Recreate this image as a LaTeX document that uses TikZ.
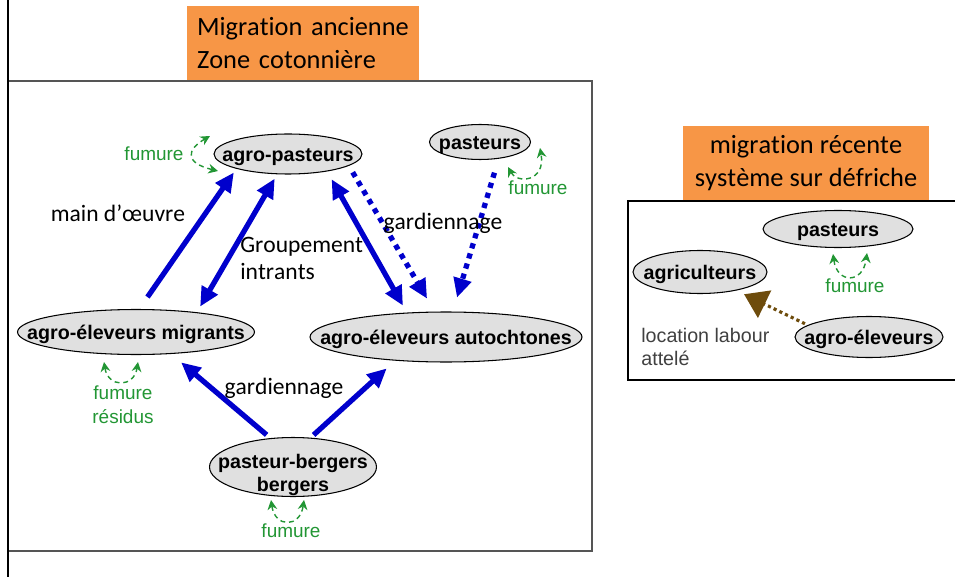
\documentclass[tikz,border=0pt]{standalone}
\usepackage{fontspec}
\setmainfont{Carlito}[Ligatures=NoCommon, Kerning=Off]
\newfontfamily\arialfont{Liberation Sans}
\usetikzlibrary{shapes.geometric, arrows.meta}

\definecolor{titleorange}{RGB}{247,150,70}
\definecolor{nodegray}{RGB}{224,224,224}
\definecolor{flowblue}{RGB}{0,0,204}
\definecolor{manuregreen}{RGB}{34,150,52}
\definecolor{labourbrown}{RGB}{110,76,12}
\definecolor{framegray}{RGB}{85,85,85}

% text of an ellipse, kept out of the shape's size
\newcommand{\zbox}[2][-1.7pt]{\makebox[0pt]{\raisebox{\dimexpr(\depth-\height)/2+#1\relax}[0pt][0pt]{\begin{tabular}{@{}c@{}}#2\end{tabular}}}}

\tikzset{
    actor/.style={ellipse, draw=black, line width=0.6pt, fill=nodegray, inner sep=0pt,
        font=\arialfont\bfseries\fontsize{11.2}{13}\selectfont},
    titlebox/.style={fill=titleorange, inner sep=0pt, font=\fontsize{15}{18.8}\selectfont},
    lab/.style={inner sep=0pt, font=\fontsize{13.4}{15.4}\selectfont},
    fum/.style={inner sep=0pt, text=manuregreen, align=center,
        font=\arialfont\fontsize{10.8}{13.6}\selectfont},
    fumarc/.style={draw=manuregreen, line width=0.8pt, dash pattern=on 2.8pt off 2.2pt,
        {Stealth[length=5.5pt,width=5.5pt]}-{Stealth[length=5.5pt,width=5.5pt]}},
    flow/.style={draw=flowblue, line width=3pt, >={Triangle[length=11pt,width=10pt]}},
    flowdot/.style={flow, dash pattern=on 3pt off 3pt},
    labour/.style={draw=labourbrown, line width=1.8pt, dash pattern=on 1.8pt off 1.8pt,
        >={Triangle[length=13pt,width=17pt]}}
}

\begin{document}
\begin{tikzpicture}[x=0.02cm, y=-0.02cm]
    \useasboundingbox (0,0) rectangle (955,577);

    % frames
    \draw[framegray, line width=0.7pt] (8,81) rectangle (592,551);
    \draw[black, line width=0.8pt] (955,201) -- (628,201) -- (628,380) -- (955,380);
    \draw[black, line width=1.7pt] (8,0) -- (8,577);

    % titles
    \node[titlebox, minimum width=4.64cm, minimum height=1.5cm, text width=4.24cm, align=left]
        (t1) at (303,43) {Migration ancienne\\Zone cotonnière};
    \node[titlebox, minimum width=4.92cm, minimum height=1.48cm, align=center]
        (t2) at (806,163) {migration récente\\système sur défriche};

    % old migration, cotton zone
    \node[actor, minimum width=2.96cm, minimum height=0.8cm] (ap) at (288,154) {\zbox{agro-pasteurs}};
    \node[actor, minimum width=2.02cm, minimum height=0.7cm] (pa) at (480,142) {\zbox{pasteurs}};
    \node[actor, minimum width=4.74cm, minimum height=0.9cm] (mig) at (136,332) {\zbox{agro-éleveurs migrants}};
    \node[actor, minimum width=5.44cm, minimum height=1.0cm] (aut) at (446,337) {\zbox{agro-éleveurs autochtones}};
    \node[actor, minimum width=3.34cm, minimum height=1.18cm] (pb) at (293,467) {\zbox[-5pt]{pasteur-bergers\\bergers}};

    \draw[flow, ->, shorten <=0.29cm, shorten >=0.09cm] (mig.82) -- (ap.196);
    \draw[flow, <->, shorten <=0.13cm, shorten >=0.1cm] (mig.18) -- (ap.-118);
    \draw[flow, <->, shorten <=0.18cm, shorten >=0.16cm] (ap.-24) -- (aut.148);
    \draw[flowdot, ->, shorten <=0.15cm, shorten >=0.3cm] (ap.-11) -- (aut.114);
    \draw[flowdot, ->, shorten <=0.29cm, shorten >=0.29cm] (pa.-42) -- (aut.75);
    \draw[flow, ->, shorten <=0.1cm, shorten >=0.26cm] (pb.128) -- (mig.-32);
    \draw[flow, ->, shorten <=0.08cm, shorten >=0.23cm] (pb.59) -- (aut.205);

    \node[lab] (lmain) at (118,213) {main d’œuvre};
    \node[lab, anchor=west, align=left] (lgroup) at (240,258) {Groupement\\intrants};
    \node[lab] (lgard1) at (443,223) {gardiennage};
    \node[lab] (lgard2) at (284,388) {gardiennage};

    % manure loops
    \node[fum] (fap) at (154,154) {fumure};
    \draw[fumarc] (210,136) .. controls (186,150) and (185,163) .. (218,171);
    \node[fum] (fpa) at (538,188) {fumure};
    \draw[fumarc] (508,167) .. controls (517,184) and (546,182) .. (540,148);
    \node[fum] (fmig) at (123,405) {fumure\\résidus};
    \draw[fumarc] (104,362) .. controls (108,388) and (134,388) .. (138,362);
    \node[fum] (fpb) at (291,531) {fumure};
    \draw[fumarc] (271,500) .. controls (275,528) and (300,528) .. (304,500);

    % recent migration, clearing system
    \node[actor, minimum width=3.0cm, minimum height=0.74cm] (pa2) at (838,229) {\zbox{pasteurs}};
    \node[actor, minimum width=2.68cm, minimum height=0.86cm] (agr) at (700,272) {\zbox{agriculteurs}};
    \node[actor, minimum width=2.96cm, minimum height=0.82cm] (ae2) at (869,337) {\zbox{agro-éleveurs}};

    \node[fum] (fpa2) at (855,286) {fumure};
    \draw[fumarc] (833,254) .. controls (837,284) and (863,284) .. (867,253);

    \draw[labour, ->, shorten <=0.06cm, shorten >=0.17cm] (ae2.169) -- (agr.-27);
    \node[inner sep=0pt, anchor=west, align=left, text=black!75,
        font=\arialfont\fontsize{11.2}{12.6}\selectfont] (lloc) at (641,347) {location labour\\attelé};
\end{tikzpicture}
\end{document}
